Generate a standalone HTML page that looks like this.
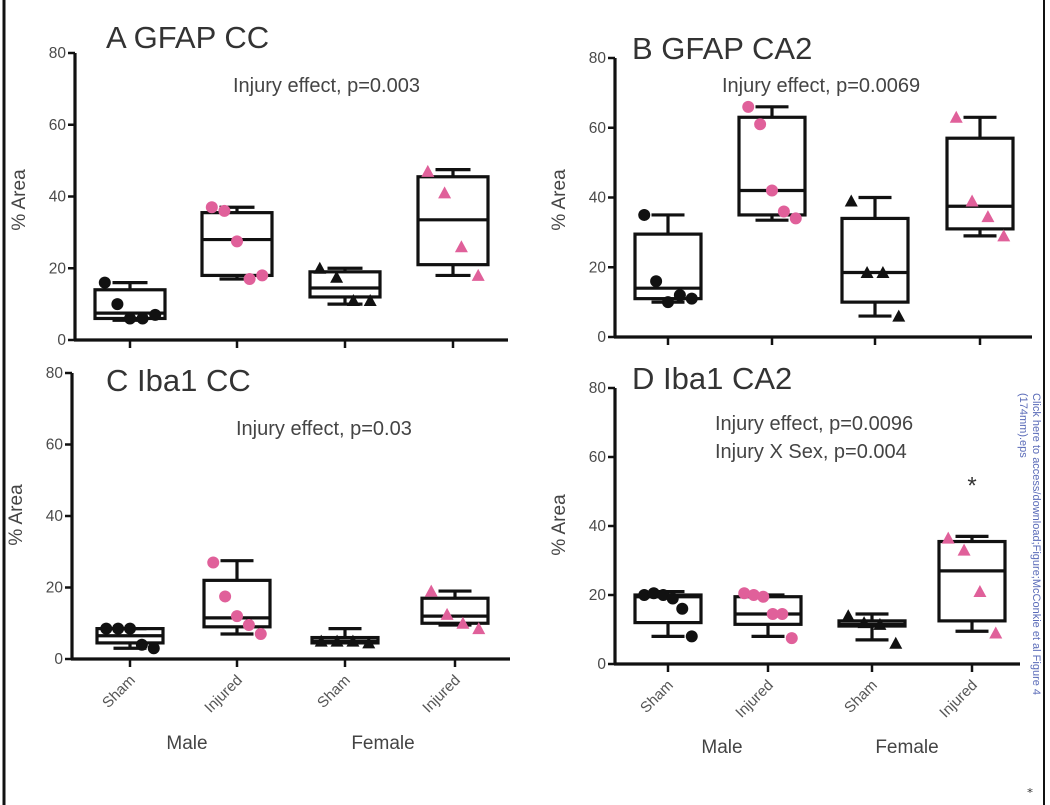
<!DOCTYPE html>
<html><head><meta charset="utf-8">
<style>
html,body{margin:0;padding:0;background:#fff;}
svg{display:block;font-family:"Liberation Sans",Arial,sans-serif;}
</style></head>
<body>
<svg id="fig" width="1050" height="805" viewBox="0 0 1050 805" xmlns="http://www.w3.org/2000/svg">
<rect x="0" y="0" width="1050" height="805" fill="#fff"/>
<line x1="4" y1="0" x2="4" y2="805" stroke="#111" stroke-width="3"/>
<line x1="1044" y1="0" x2="1044" y2="805" stroke="#111" stroke-width="2"/>
<g transform="translate(1033,393) rotate(90)" fill="#5a6bb8" font-size="11">
<text x="0" y="0">Click here to access/download;Figure;McConkie et al Figure 4</text>
<text x="0" y="13">(174mm).eps</text>
</g>
<text x="1027" y="793" font-size="12" fill="#333">⁎</text>
</svg>
<script>
const NS="http://www.w3.org/2000/svg";
const svg=document.getElementById('fig');
const categories=["Sham","Injured","Sham","Injured"];
const yTicks=[0,20,40,60,80];
const titles=["A GFAP CC","B GFAP CA2","C Iba1 CC","D Iba1 CA2"];
const notes=[["Injury effect, p=0.003"],["Injury effect, p=0.0069"],["Injury effect, p=0.03"],["Injury effect, p=0.0096","Injury X Sex, p=0.004"]];
// box stats [min,q1,median,q3,max] per group
const boxA=[[5.5,6,7.5,14,16],[17,18,28,35.5,37],[10,12,14.5,19,20],[18,21,33.5,45.5,47.5]];
const boxB=[[10,11,14,29.5,35],[33.5,35,42,63,66],[6,10,18.5,34,40],[29,31,37.5,57,63]];
const boxC=[[3,4.5,6.5,8.5,8.5],[7,9,11.5,22,27.5],[4.5,4.5,5,6,8.5],[9.5,10,12,17,19]];
const boxD=[[8,12,19.5,20,21],[8,11.5,14.5,19.5,20],[7,11,11.5,12.5,14.5],[9.5,12.5,27,35.5,37]];
// individual points per group
const ptsA=[[16,10,6,6,7],[37,36,27.5,17,18],[20,17.5,11,11],[47,41,26,18]];
const ptsB=[[35,16,10,12,11],[66,61,42,36,34],[39,18.5,18.5,6],[63,39,34.5,29]];
const ptsC=[[8.5,8.5,8.5,4,3],[27,17.5,12,9.5,7],[5,5,5,4.5],[19,12.5,10,8.5]];
const ptsD=[[20,20.5,20,19,16,8],[20.5,20,19.5,14.5,14.5,7.5],[14,12,11.5,6],[36.5,33,21,9]];
const boxes=[boxA,boxB,boxC,boxD];
const points=[ptsA,ptsB,ptsC,ptsD];
const starGroup=[null,null,null,[3,52]];
const panels=[
 {ax:75,y0:340,y80:53,xEnd:508,cx:[130,237,345,453],hw:35,tx:106,ty:48,nx:233,ny:92,labels:false,ylabY:200},
 {ax:615,y0:337,y80:58,xEnd:1032,cx:[668,772,875,980],hw:33,tx:632,ty:59,nx:722,ny:92,labels:false,ylabY:200},
 {ax:72,y0:659,y80:373,xEnd:510,cx:[130,237,345,455],hw:33,tx:106,ty:391,nx:236,ny:435,labels:true,ylabY:515,male:[187,749],female:[383,749]},
 {ax:615,y0:664,y80:388,xEnd:1020,cx:[668,768,872,972],hw:33,tx:632,ty:389,nx:715,ny:430,labels:true,ylabY:525,male:[722,753],female:[907,753]}
];
const PINK="#e0609a";
function el(tag,attrs,parent){const e=document.createElementNS(NS,tag);for(const k in attrs)e.setAttribute(k,attrs[k]);(parent||svg).appendChild(e);return e;}
panels.forEach((p,pi)=>{
 const g=el('g',{});
 
 
 const Y=v=>p.y0-(v/80)*(p.y0-p.y80);
 const ya=el('line',{x1:p.ax,y1:p.y80,x2:p.ax,y2:p.y0+1,stroke:'#111','stroke-width':3.2},g);
 
 
 const xa=el('line',{x1:p.ax-1,y1:p.y0,x2:p.xEnd,y2:p.y0,stroke:'#111','stroke-width':3.2},g);
 
 
 yTicks.forEach(t=>{
  el('line',{x1:p.ax-7,y1:Y(t),x2:p.ax,y2:Y(t),stroke:'#111','stroke-width':2.5},g);
  const tl=el('text',{x:p.ax-9,y:Y(t)+5,'text-anchor':'end','font-size':15.5,fill:'#4a4a4a'},g);
  tl.textContent=t;
  
  
 });
 const yl=el('text',{transform:`translate(${p.ax-50},${p.ylabY}) rotate(-90)`,'text-anchor':'middle','font-size':19,fill:'#444'},g);
 yl.textContent='% Area';
 
 
 const tt=el('text',{x:p.tx,y:p.ty,'font-size':31,fill:'#333'},g);
 tt.textContent=titles[pi];
 
 
 notes[pi].forEach((n,ni)=>{
  const nt=el('text',{x:p.nx,y:p.ny+ni*28,'font-size':20,fill:'#444'},g);
  nt.textContent=n;
  
  
 });
 categories.forEach((c,ci)=>{
  const x=p.cx[ci];
  el('line',{x1:x,y1:p.y0,x2:x,y2:p.y0+8,stroke:'#111','stroke-width':2.5},g);
  if(p.labels){
   const cl=el('text',{transform:`translate(${x+6},${p.y0+22}) rotate(-45)`,'text-anchor':'end','font-size':15,fill:'#555'},g);
   cl.textContent=c;
   
   
  }
  const b=boxes[pi][ci];
  const bg=el('g',{},g);
  
  
  const cw=p.hw*0.5;
  el('line',{x1:x,y1:Y(b[0]),x2:x,y2:Y(b[1]),stroke:'#111','stroke-width':3.2},bg);
  el('line',{x1:x,y1:Y(b[3]),x2:x,y2:Y(b[4]),stroke:'#111','stroke-width':3.2},bg);
  el('line',{x1:x-cw,y1:Y(b[0]),x2:x+cw,y2:Y(b[0]),stroke:'#111','stroke-width':3.2},bg);
  el('line',{x1:x-cw,y1:Y(b[4]),x2:x+cw,y2:Y(b[4]),stroke:'#111','stroke-width':3.2},bg);
  el('rect',{x:x-p.hw,y:Y(b[3]),width:2*p.hw,height:Math.max(1,Y(b[1])-Y(b[3])),fill:'none',stroke:'#111','stroke-width':3.2},bg);
  el('line',{x1:x-p.hw,y1:Y(b[2]),x2:x+p.hw,y2:Y(b[2]),stroke:'#111','stroke-width':3.2},bg);
  const pts=points[pi][ci];
  const col=ci%2===1?PINK:'#111';
  const tri=ci>=2;
  pts.forEach((v,k)=>{
   const off=pts.length>1?(k-(pts.length-1)/2)*(p.hw*1.6/(pts.length-1)):0;
   const px=x+off*0.9, py=Y(v);
   let m;
   if(tri) m=el('polygon',{points:`${px},${py-6.5} ${px-6.5},${py+5.5} ${px+6.5},${py+5.5}`,fill:col},bg);
   else m=el('circle',{cx:px,cy:py,r:6,fill:col},bg);
   
   
  });
 });
 const s=starGroup[pi];
 if(s){
  const st=el('text',{x:p.cx[s[0]],y:Y(s[1])+9,'text-anchor':'middle','font-size':24,fill:'#333'},g);
  st.textContent='*';
  
  
 }
 if(p.labels){
  const ml=el('text',{x:p.male[0],y:p.male[1],'text-anchor':'middle','font-size':19,fill:'#444'},g);
  ml.textContent='Male';
  
  
  const fl=el('text',{x:p.female[0],y:p.female[1],'text-anchor':'middle','font-size':19,fill:'#444'},g);
  fl.textContent='Female';
  
  
 }
});
</script>
</body></html>
